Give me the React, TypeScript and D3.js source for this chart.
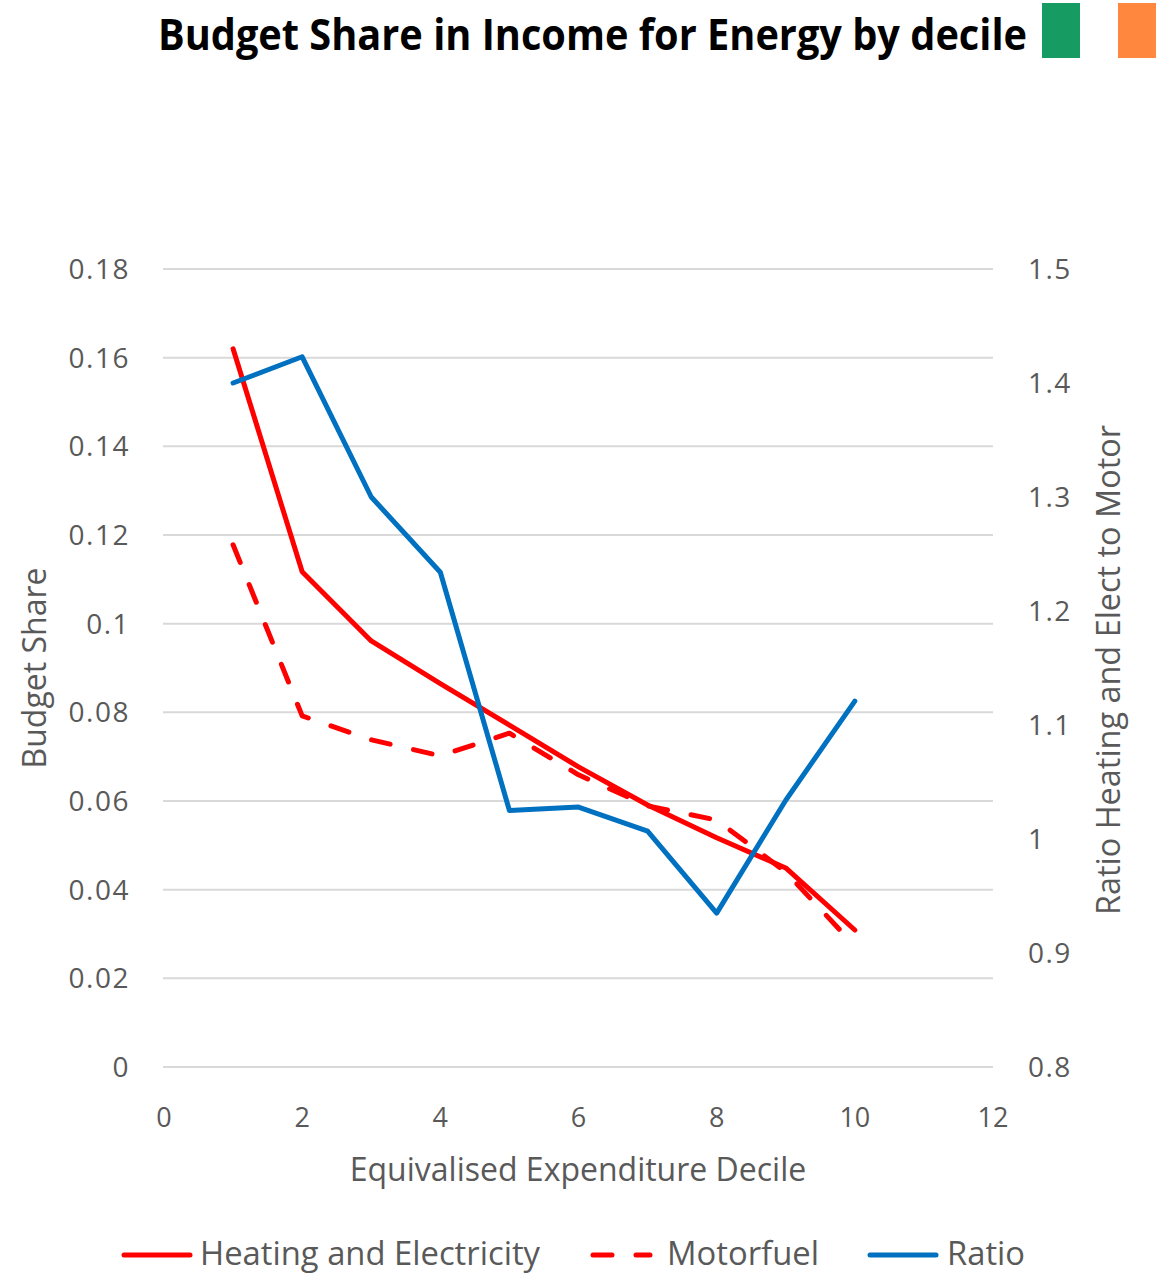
import React from "react";
import * as d3 from "d3";

const deciles = [1, 2, 3, 4, 5, 6, 7, 8, 9, 10];
const heating = [0.162, 0.1117, 0.0961, 0.0865, 0.0771, 0.0677, 0.0591, 0.0517, 0.0449, 0.0309];
const motorfuel = [0.1178, 0.0792, 0.0738, 0.0702, 0.0753, 0.0659, 0.0589, 0.0557, 0.044, 0.0273];
const ratio = [1.4, 1.423, 1.3, 1.234, 1.025, 1.028, 1.007, 0.935, 1.034, 1.121];
const xTicks = [0, 2, 4, 6, 8, 10, 12];
const leftTicks = [0, 0.02, 0.04, 0.06, 0.08, 0.1, 0.12, 0.14, 0.16, 0.18];
const rightTicks = [0.8, 0.9, 1, 1.1, 1.2, 1.3, 1.4, 1.5];

const W = 1158;
const H = 1273;
const tickFont = "'Open Sans', 'Noto Sans', sans-serif";
const textFont = "'Open Sans', 'Noto Sans', sans-serif";

export default function App() {
  const x = d3.scaleLinear().domain([0, 12]).range([164, 993]);
  const yL = d3.scaleLinear().domain([0, 0.18]).range([1067, 269]);
  const yR = d3.scaleLinear().domain([0.8, 1.5]).range([1067, 269]);

  const lineL = d3.line<number>().x((_, i) => x(deciles[i])).y((d) => yL(d));
  const lineR = d3.line<number>().x((_, i) => x(deciles[i])).y((d) => yR(d));

  const grey = "#595959";

  return (
    <svg width={W} height={H} style={{ position: "absolute", left: 0, top: 0, background: "#fff" }}>
      <rect x={0} y={0} width={W} height={H} fill="#fff" />
      <text x={158} y={50} textAnchor="start" textLength={869} lengthAdjust="spacingAndGlyphs" fontFamily={textFont} fontWeight="bold" fontSize={43} fill="#000">
        Budget Share in Income for Energy by decile
      </text>
      <rect x={1042} y={3} width={38} height={55} fill="#169B62" />
      <rect x={1118} y={3} width={38} height={55} fill="#FF883E" />

      {leftTicks.map((t) => (
        <line key={"g" + t} x1={163} x2={993} y1={yL(t)} y2={yL(t)} stroke="#d9d9d9" strokeWidth={2} />
      ))}

      {leftTicks.map((t) => (
        <text key={"l" + t} x={130} y={yL(t) + 10} textAnchor="end" fontFamily={tickFont} fontSize={28} letterSpacing={1.5} fill={grey}>
          {String(t)}
        </text>
      ))}
      {rightTicks.map((t) => (
        <text key={"r" + t} x={1028} y={yR(t) + 10} textAnchor="start" fontFamily={tickFont} fontSize={28} letterSpacing={1.5} fill={grey}>
          {String(t)}
        </text>
      ))}
      {xTicks.map((t) => (
        <text key={"x" + t} x={x(t)} y={1127} textAnchor="middle" fontFamily={tickFont} fontSize={27} fill={grey}>
          {String(t)}
        </text>
      ))}

      <text x={578} y={1181} textAnchor="middle" fontFamily={textFont} fontSize={32} fill={grey}>
        Equivalised Expenditure Decile
      </text>
      <text transform="translate(46,668) rotate(-90)" textAnchor="middle" fontFamily={textFont} fontSize={32} fill={grey}>
        Budget Share
      </text>
      <text transform="translate(1120,670) rotate(-90)" textAnchor="middle" fontFamily={textFont} fontSize={32} textLength={490} lengthAdjust="spacingAndGlyphs" fill={grey}>
        Ratio Heating and Elect to Motor
      </text>

      <path d={lineL(heating) || ""} fill="none" stroke="#ff0000" strokeWidth={5} strokeLinecap="round" strokeLinejoin="round" />
      <path d={lineL(motorfuel) || ""} fill="none" stroke="#ff0000" strokeWidth={5} strokeDasharray="19 24" strokeLinecap="round" strokeLinejoin="round" />
      <path d={lineR(ratio) || ""} fill="none" stroke="#0070C0" strokeWidth={5} strokeLinecap="round" strokeLinejoin="round" />

      <line x1={124} x2={190} y1={1255} y2={1255} stroke="#ff0000" strokeWidth={5} strokeLinecap="round" />
      <text x={200} y={1265} fontFamily={textFont} fontSize={32} textLength={340} lengthAdjust="spacingAndGlyphs" fill={grey}>Heating and Electricity</text>
      <line x1={593} x2={650} y1={1255} y2={1255} stroke="#ff0000" strokeWidth={5} strokeDasharray="19 24" strokeLinecap="round" />
      <text x={667} y={1265} fontFamily={textFont} fontSize={32} textLength={152} lengthAdjust="spacingAndGlyphs" fill={grey}>Motorfuel</text>
      <line x1={870} x2={936} y1={1255} y2={1255} stroke="#0070C0" strokeWidth={5} strokeLinecap="round" />
      <text x={947} y={1265} fontFamily={textFont} fontSize={32} textLength={78} lengthAdjust="spacingAndGlyphs" fill={grey}>Ratio</text>
    </svg>
  );
}
